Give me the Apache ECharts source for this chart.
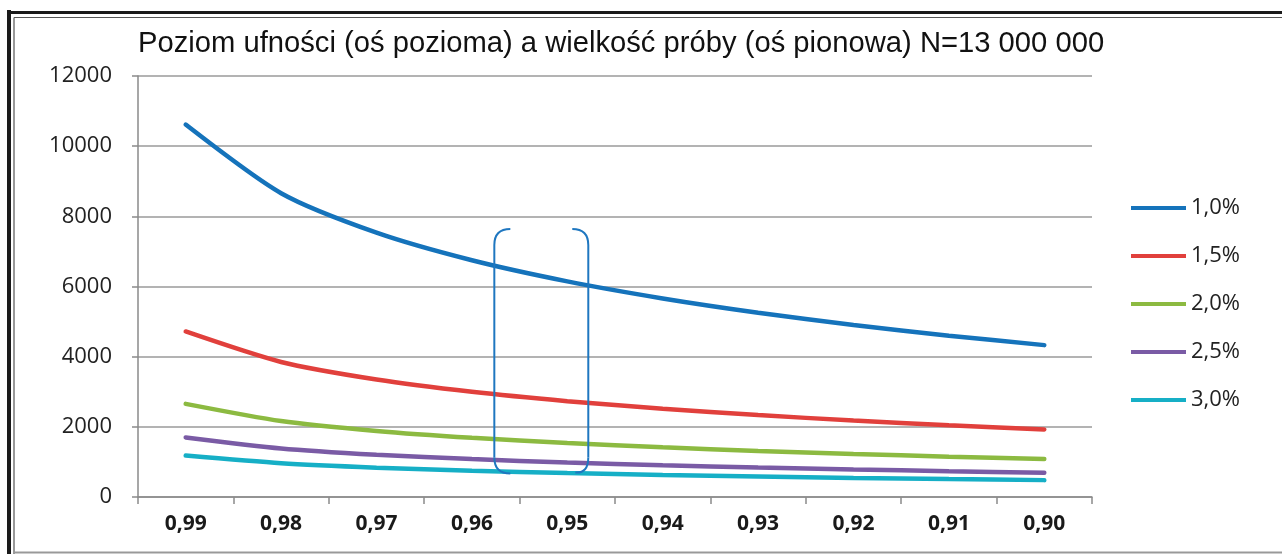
<!DOCTYPE html>
<html>
<head>
<meta charset="utf-8">
<title>Poziom ufności a wielkość próby</title>
<script src="https://cdn.jsdelivr.net/npm/echarts@6/dist/echarts.min.js"></script>
<style>
  html, body { margin: 0; padding: 0; background: #fff; }
  #chart { width: 1282px; height: 554px; }
</style>
</head>
<body>
<div id="chart"></div>
<script>
  // poziom ufności (oś pozioma)
  const categories = ['0,99', '0,98', '0,97', '0,96', '0,95', '0,94', '0,93', '0,92', '0,91', '0,90']
  // wielkość próby dla błędu 1,0% ... 3,0%
  const err10 = [10616, 8659, 7535, 6748, 6146, 5660, 5253, 4904, 4599, 4329]
  const err15 = [4718, 3849, 3349, 2999, 2732, 2515, 2335, 2180, 2044, 1924]
  const err20 = [2654, 2165, 1884, 1687, 1537, 1415, 1313, 1226, 1150, 1082]
  const err25 = [1699, 1385, 1205, 1080, 983, 905, 840, 785, 736, 693]
  const err30 = [1180, 962, 837, 750, 683, 629, 584, 545, 511, 481]
  const seriesNames = ['1,0%', '1,5%', '2,0%', '2,5%', '3,0%']
  const yTicks = [0, 2000, 4000, 6000, 8000, 10000, 12000]

  const colors = ['#1573bb', '#e1403c', '#8cba41', '#7a5ba5', '#16afc6']
  const seriesData = [err10, err15, err20, err25, err30]

  const chart = echarts.init(document.getElementById('chart'), null, { renderer: 'canvas' })

  const option = {
    backgroundColor: '#ffffff',
    animation: false,
    color: colors,
    title: {
      text: 'Poziom ufności (oś pozioma) a wielkość próby (oś pionowa) N=13 000 000',
      left: 138,
      top: 29,
      padding: 0,
      textStyle: {
        fontFamily: 'Liberation Sans, Arial, sans-serif',
        fontWeight: 'normal',
        fontSize: 29.2,
        color: '#111'
      }
    },
    legend: {
      orient: 'vertical',
      left: 1126,
      top: 192,
      icon: 'rect',
      itemWidth: 55,
      itemHeight: 4,
      itemGap: 26,
      data: seriesNames,
      textStyle: {
        fontFamily: 'Open Sans, sans-serif',
        fontSize: 22,
        lineHeight: 22,
        color: '#222'
      }
    },
    grid: {
      left: 138,
      right: 190,
      top: 76,
      bottom: 57
    },
    xAxis: {
      type: 'category',
      data: categories,
      boundaryGap: true,
      axisLine: { lineStyle: { color: '#8a8a8a', width: 1.5 } },
      axisTick: { show: true, length: 7, lineStyle: { color: '#8a8a8a', width: 1.5 } },
      axisLabel: {
        margin: 17,
        fontFamily: 'Open Sans, sans-serif',
        fontWeight: 'bold',
        fontSize: 21,
        color: '#1a1a1a'
      },
      splitLine: { show: false }
    },
    yAxis: {
      type: 'value',
      min: yTicks[0],
      max: yTicks[yTicks.length - 1],
      interval: 2000,
      axisLine: { show: true, lineStyle: { color: '#8a8a8a', width: 1.5 } },
      axisTick: { show: true, length: 6, lineStyle: { color: '#8a8a8a', width: 1.5 } },
      axisLabel: {
        margin: 26,
        fontFamily: 'Open Sans, sans-serif',
        fontSize: 22,
        color: '#222',
        formatter: function(v) { return String(v) }
      },
      splitLine: { lineStyle: { color: '#9a9a9a', width: 1.5 } }
    },
    series: seriesData.map(function(values, i) {
      return {
        name: seriesNames[i],
        type: 'line',
        data: values,
        smooth: 0.25,
        showSymbol: false,
        symbol: 'none',
        lineStyle: { width: 4.5, color: colors[i], cap: 'round' },
        z: 5 - i
      }
    })
  }

  chart.setOption(option)

  // nawias wokół poziomu 0,95 (rysowany w układzie danych)
  function px(catIndex, value) {
    const a = chart.convertToPixel({ gridIndex: 0 }, [Math.floor(catIndex), value])
    const b = chart.convertToPixel({ gridIndex: 0 }, [Math.floor(catIndex) + 1, value])
    const f = catIndex - Math.floor(catIndex)
    return [a[0] + (b[0] - a[0]) * f, a[1]]
  }
  const tl = px(3.235, 7640)
  const br = px(4.22, 670)
  const xl = tl[0], yt = tl[1], xr = br[0], yb = br[1]
  const r = 16
  const bracketStyle = { stroke: '#1f77c0', lineWidth: 2, fill: null }

  chart.setOption({
    graphic: [
      // ramka
      { type: 'line', shape: { x1: 9, y1: 10, x2: 9, y2: 554 }, style: { stroke: '#1a1a1a', lineWidth: 4 }, silent: true },
      { type: 'line', shape: { x1: 7, y1: 12.5, x2: 1282, y2: 12.5 }, style: { stroke: '#1a1a1a', lineWidth: 3 }, silent: true },
      { type: 'line', shape: { x1: 14, y1: 17.5, x2: 14, y2: 554 }, style: { stroke: '#555', lineWidth: 1.2 }, silent: true },
      { type: 'line', shape: { x1: 14, y1: 17.5, x2: 1282, y2: 17.5 }, style: { stroke: '#555', lineWidth: 1.2 }, silent: true },
      { type: 'line', shape: { x1: 14, y1: 552.5, x2: 1282, y2: 552.5 }, style: { stroke: '#999', lineWidth: 2 }, silent: true },
      // lewy nawias
      { type: 'bezierCurve', shape: { x1: xl + r, y1: yt, cpx1: xl, cpy1: yt, x2: xl, y2: yt + r }, style: bracketStyle, z: 10 },
      { type: 'line', shape: { x1: xl, y1: yt + r, x2: xl, y2: yb - r }, style: bracketStyle, z: 10 },
      { type: 'bezierCurve', shape: { x1: xl, y1: yb - r, cpx1: xl, cpy1: yb, x2: xl + r, y2: yb }, style: bracketStyle, z: 10 },
      // prawy nawias
      { type: 'bezierCurve', shape: { x1: xr - r, y1: yt, cpx1: xr, cpy1: yt, x2: xr, y2: yt + r }, style: bracketStyle, z: 10 },
      { type: 'line', shape: { x1: xr, y1: yt + r, x2: xr, y2: yb - r }, style: bracketStyle, z: 10 },
      { type: 'bezierCurve', shape: { x1: xr, y1: yb - r, cpx1: xr, cpy1: yb, x2: xr - 13, y2: yb - 1 }, style: bracketStyle, z: 10 }
    ]
  })
</script>
</body>
</html>
